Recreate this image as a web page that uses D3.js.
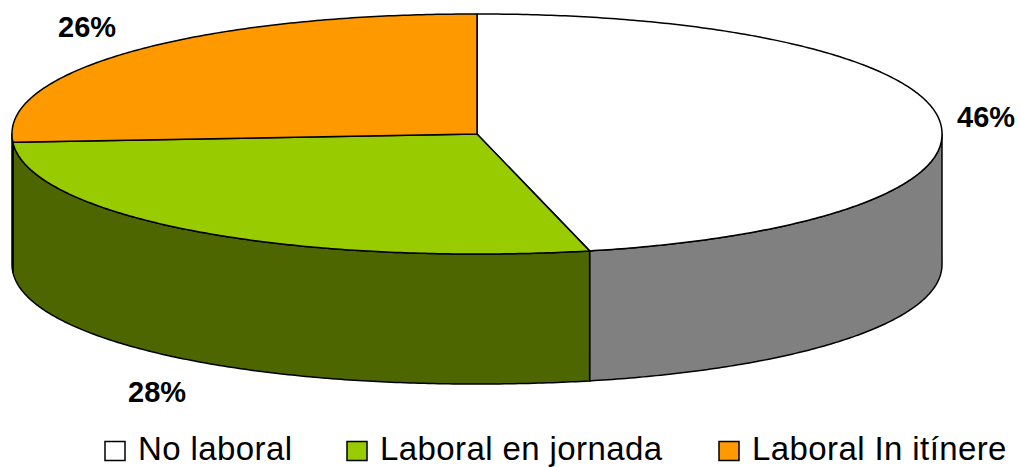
<!DOCTYPE html>
<html>
<head>
<meta charset="utf-8">
<title>Pie 3D</title>
<script src="https://cdn.jsdelivr.net/npm/d3@7"></script>
<style>
html, body { margin: 0; padding: 0; background: #fff; }
svg { display: block; }
text { font-family: "Liberation Sans", Arial, sans-serif; fill: #000; }
.pct { font-size: 29px; font-weight: bold; }
.leg { font-size: 33px; letter-spacing: 0.4px; }
</style>
</head>
<body>
<script>
var categories = ["No laboral", "Laboral en jornada", "Laboral In itínere"];
var values = [46.3, 27.7, 26];
var topColours = ["#ffffff", "#99cc00", "#ff9900"];
var sideColours = ["#808080", "#4d6600", "#804d00"];

var w = 1020, h = 467;
var depth = 130;
var x = d3.scaleLinear().domain([-1, 1]).range([12, 942]);
var y = d3.scaleLinear().domain([-1, 1]).range([14, 254]);

// the rim in the picture is a bit fuller than a true ellipse
var rimPower = 0.966;

// label and legend placement, by category
var labelX = [957, 128, 58];
var labelY = [127, 402, 37];
var swatchX = [105, 347, 719];
var legendTextX = [138, 380, 752];

var svg = d3.select("body").append("svg").attr("width", w).attr("height", h);

var slices = d3.pie().sort(null)(values);

var line = d3.line().x(function(d) { return d[0]; }).y(function(d) { return d[1]; });

function bulge(v) {
  return (v < 0 ? -1 : 1) * Math.pow(Math.abs(v), rimPower);
}

// points along the rim between two angles (0 = up, clockwise)
function rim(a0, a1, dy) {
  var n = Math.max(2, Math.ceil((a1 - a0) / 0.01));
  return d3.range(n + 1).map(function(i) {
    var a = a0 + (a1 - a0) * i / n;
    return [x(bulge(Math.sin(a))), y(bulge(-Math.cos(a))) + dy];
  });
}

// side wall first, only the part facing the viewer
slices.forEach(function(s, i) {
  var a0 = Math.max(s.startAngle, Math.PI / 2);
  var a1 = Math.min(s.endAngle, Math.PI * 1.5);
  if (a1 <= a0) return;
  var pts = rim(a0, a1, 0).concat(rim(a0, a1, depth).reverse());
  svg.append("path")
     .attr("d", line(pts) + "Z")
     .attr("fill", sideColours[i])
     .attr("stroke", "#000")
     .attr("stroke-width", 1.5)
     .attr("stroke-linejoin", "round");
});

// top of the pie
slices.forEach(function(s, i) {
  var pts = [[x(0), y(0)]].concat(rim(s.startAngle, s.endAngle, 0));
  svg.append("path")
     .attr("d", line(pts) + "Z")
     .attr("fill", topColours[i])
     .attr("stroke", "#000")
     .attr("stroke-width", 1.5)
     .attr("stroke-linejoin", "round");
});

svg.selectAll(".pct")
   .data(values)
   .enter()
   .append("text")
   .attr("class", "pct")
   .attr("x", function(d, i) { return labelX[i]; })
   .attr("y", function(d, i) { return labelY[i]; })
   .text(function(d) { return Math.round(d) + "%"; });

svg.selectAll(".swatch")
   .data(categories)
   .enter()
   .append("rect")
   .attr("class", "swatch")
   .attr("x", function(d, i) { return swatchX[i]; })
   .attr("y", 441.5)
   .attr("width", 20)
   .attr("height", 19)
   .attr("fill", function(d, i) { return topColours[i]; })
   .attr("stroke", "#000")
   .attr("stroke-width", 1.5);

svg.selectAll(".leg")
   .data(categories)
   .enter()
   .append("text")
   .attr("class", "leg")
   .attr("x", function(d, i) { return legendTextX[i]; })
   .attr("y", 460)
   .text(function(d) { return d; });
</script>
</body>
</html>
